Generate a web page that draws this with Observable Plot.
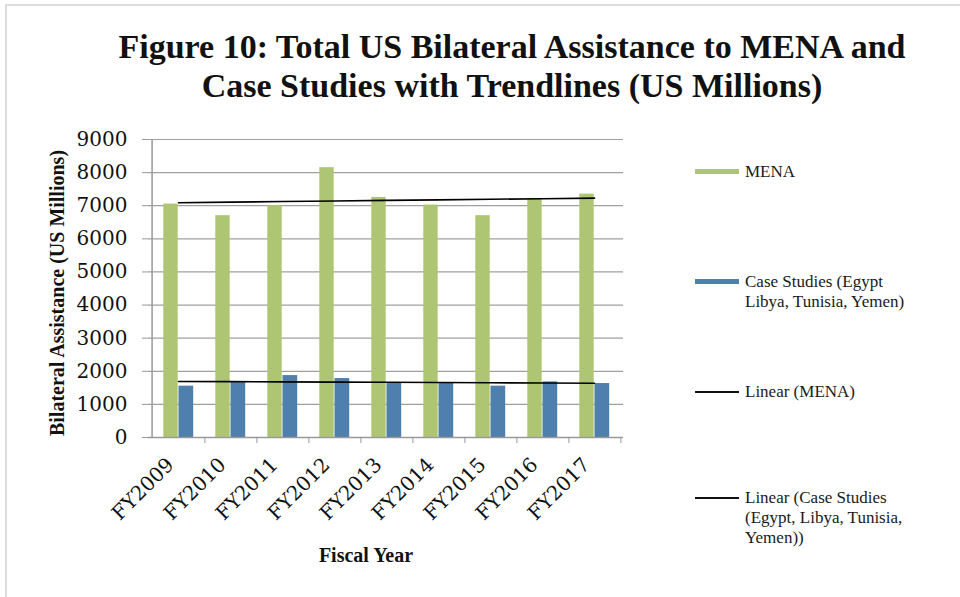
<!DOCTYPE html>
<html><head><meta charset="utf-8">
<script src="https://cdn.jsdelivr.net/npm/d3@7"></script>
<script src="https://cdn.jsdelivr.net/npm/@observablehq/plot@0.6"></script>
<style>
body{margin:0;background:#fff;}
#wrap{position:relative;width:960px;height:597px;overflow:hidden;background:#fff;}
#frame{position:absolute;left:5px;top:4px;width:1000px;height:700px;border-top:2px solid #dcdcdc;border-left:2px solid #dcdcdc;pointer-events:none;}
#title{height:115px;box-sizing:border-box;padding-top:27px;padding-left:64px;text-align:center;font-family:"Liberation Serif",serif;font-weight:bold;font-size:34px;line-height:39px;color:#111;}
.abs{position:absolute;font-family:"Liberation Serif",serif;color:#111;}
#ytitle{left:57px;top:293px;transform:translate(-50%,-50%) rotate(-90deg);white-space:nowrap;font-weight:bold;font-size:20px;}
#xtitle{left:366px;top:555px;transform:translate(-50%,-50%);white-space:nowrap;font-weight:bold;font-size:20px;}
.sw{position:absolute;left:695px;width:44px;}
.lg{position:absolute;left:745px;font-family:"Liberation Serif",serif;font-size:17px;line-height:20px;color:#1a1a1a;}
</style></head>
<body>
<div id="wrap">
<div id="title">Figure 10: Total US Bilateral Assistance to MENA and<br>Case Studies with Trendlines (US Millions)</div>
<div id="chart"></div>
<div id="ytitle" class="abs">Bilateral Assistance (US Millions)</div>
<div id="xtitle" class="abs">Fiscal Year</div>
<div id="legend"></div>
<div id="frame"></div>
</div>
<script>
const years = ["FY2009","FY2010","FY2011","FY2012","FY2013","FY2014","FY2015","FY2016","FY2017"];
const mena = [7050,6700,7000,8150,7250,7020,6700,7220,7350];
const caseStudies = [1550,1660,1870,1780,1640,1640,1550,1680,1630];
const yTicks = [0,1000,2000,3000,4000,5000,6000,7000,8000,9000];
const seriesNames = ["MENA","Case Studies (Egypt, Libya, Tunisia, Yemen)","Linear (MENA)","Linear (Case Studies (Egypt, Libya, Tunisia, Yemen))"];
const GREEN = "#aec673", BLUE = "#4f7fad";

function linearFit(vals){
  const xs = vals.map((_,i)=>i);
  const mx = d3.mean(xs), my = d3.mean(vals);
  const sxy = d3.sum(xs,(x,i)=>(x-mx)*(vals[i]-my));
  const sxx = d3.sum(xs,x=>(x-mx)*(x-mx));
  const b = sxy/sxx, a = my - b*mx;
  return xs.map(x=>a+b*x);
}
const rows = years.map((y,i)=>({year:y, mena:mena[i], cases:caseStudies[i]}));
const fitM = linearFit(mena), fitC = linearFit(caseStudies);
const trendM = years.map((y,i)=>({year:y, v:fitM[i]}));
const trendC = years.map((y,i)=>({year:y, v:fitC[i]}));

const chart = Plot.plot({
  width:960, height:482,
  marginLeft:148, marginRight:337, marginTop:24, marginBottom:160,
  style:{fontFamily:"DejaVu Serif", fontSize:"20px", color:"#111", background:"transparent", overflow:"visible"},
  x:{domain:years, padding:0, label:null},
  y:{domain:[0,9000], label:null},
  marks:[
    Plot.gridY(yTicks,{stroke:"#a0a0a0", strokeOpacity:1, strokeWidth:1.2}),
    Plot.barY(rows,{x:"year", y:"mena", fill:GREEN, insetLeft:11.3, insetRight:26.3}),
    Plot.barY(rows,{x:"year", y:"cases", fill:BLUE, insetLeft:26.5, insetRight:10.8}),
    Plot.line(trendM,{x:"year", y:"v", stroke:"#000", strokeWidth:1.6}),
    Plot.line(trendC,{x:"year", y:"v", stroke:"#000", strokeWidth:1.6}),
    Plot.ruleY([0],{stroke:"#999", strokeWidth:1.5}),
    Plot.ruleX([years[0]],{dx:-26.4, stroke:"#999", strokeWidth:1.5}),
    Plot.axisY({ticks:yTicks, tickSize:6, tickPadding:15, stroke:"#999", label:null, tickFormat:d=>String(d)}),
    Plot.axisX({ticks:years, tickSize:6, dx:26.4, stroke:"#999", tickFormat:()=>"", label:null}),
    Plot.axisX({ticks:years, tickSize:0, tickRotate:-45, tickPadding:24, dx:-8, label:null})
  ]
});
document.getElementById("chart").appendChild(chart);

const legendItems = [
  {name:seriesNames[0], color:GREEN, top:169, h:5, lines:["MENA"], ty:162},
  {name:seriesNames[1], color:BLUE, top:279, h:5, lines:["Case Studies (Egypt","Libya, Tunisia, Yemen)"], ty:272},
  {name:seriesNames[2], color:"#111", top:391, h:2, lines:["Linear (MENA)"], ty:382},
  {name:seriesNames[3], color:"#111", top:497, h:2, lines:["Linear (Case Studies","(Egypt, Libya, Tunisia,","Yemen))"], ty:488}
];
const lg = document.getElementById("legend");
for (const it of legendItems){
  const s = document.createElement("div"); s.className="sw";
  s.style.top = it.top+"px"; s.style.height = it.h+"px"; s.style.background = it.color;
  lg.appendChild(s);
  const t = document.createElement("div"); t.className="lg";
  t.style.top = it.ty+"px"; t.innerHTML = it.lines.join("<br>");
  lg.appendChild(t);
}
</script>
</body></html>
